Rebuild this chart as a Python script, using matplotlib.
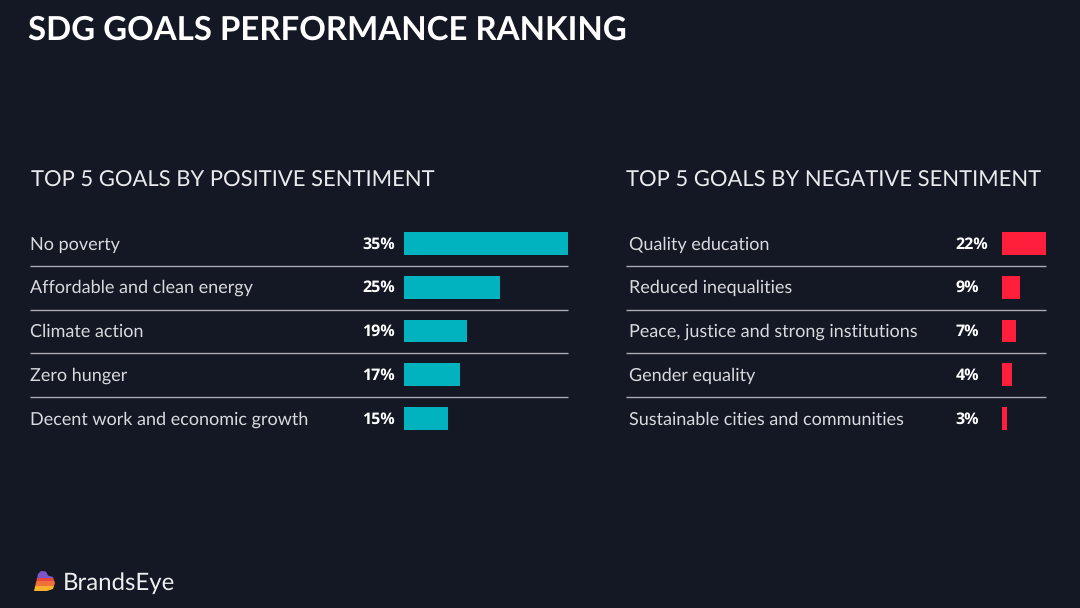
import matplotlib
matplotlib.use("Agg")
import matplotlib.pyplot as plt
from matplotlib.patches import Polygon, Rectangle

plt.rcParams["text.hinting"] = "no_hinting"
plt.rcParams["text.hinting_factor"] = 1

W, H = 1080, 608
BG = "#141824"
TEAL = "#00B3BF"
RED = "#FF1F3D"
LINE = "#A9ABB3"

title = "SDG GOALS PERFORMANCE RANKING"
left_heading = "TOP 5 GOALS BY POSITIVE SENTIMENT"
right_heading = "TOP 5 GOALS BY NEGATIVE SENTIMENT"

pos_goals = ["No poverty", "Affordable and clean energy", "Climate action",
             "Zero hunger", "Decent work and economic growth"]
pos_labels = ["35%", "25%", "19%", "17%", "15%"]
# drawn bar lengths (the bars are not proportional to the labels)
pos_bars = [35, 20.4, 13.5, 11.9, 9.3]

neg_goals = ["Quality education", "Reduced inequalities",
             "Peace, justice and strong institutions", "Gender equality",
             "Sustainable cities and communities"]
neg_labels = ["22%", "9%", "7%", "4%", "3%"]
neg_bars = [22, 9.1, 7.1, 5.1, 2.6]

fig = plt.figure(figsize=(W / 100, H / 100), dpi=100, facecolor=BG)

ov = fig.add_axes([0, 0, 1, 1])
ov.set_xlim(0, W)
ov.set_ylim(H, 0)
ov.axis("off")

BODY = "Lato"
NUM = "Open Sans"

ov.text(27.5, 30, title, color="white", fontsize=24.1, fontweight="bold",
        family=BODY, va="center", ha="left")
for x, s in [(31, left_heading), (625.5, right_heading)]:
    ov.text(x, 180.5, s, color="#E9EAED", fontsize=15.6, family=BODY, va="center")

row_y = [244.5, 288, 332, 375.5, 419.5]
rule_y = [265.5, 309.5, 353, 397]


def panel(x_text, x_rule, x_num, x_bar, x_end, goals, labels, bars, color):
    ax = fig.add_axes([x_bar / W, 1 - 440.4 / H, (x_end - x_bar) / W, 218.7 / H])
    ax.set_facecolor("none")
    ax.barh(range(len(bars)), bars, height=0.52, color=color)
    ax.set_xlim(0, max(bars))
    ax.set_ylim(len(bars) - 0.5, -0.5)
    ax.axis("off")
    for y in rule_y:
        ov.plot([x_rule, x_end], [y, y], color=LINE, lw=1.0, solid_capstyle="butt")
    for y, g, l in zip(row_y, goals, labels):
        ov.text(x_text, y, g, color="#D9DADE", fontsize=13.3, family=BODY, va="center")
        ov.text(x_num - 0.5, y, l, color="white", fontsize=11.5, family=NUM,
                fontweight="bold", va="center")


panel(30.5, 30, 363, 404, 568, pos_goals, pos_labels, pos_bars, TEAL)
panel(629, 626, 956, 1002, 1046, neg_goals, neg_labels, neg_bars, RED)

# logo
verts = [(34, 591), (38, 574), (41, 571), (46, 571.5), (48, 575.5), (53, 577),
         (55, 583), (53, 589), (47, 591)]
bands = [(570, 577.5, "#7C55C8"), (577.5, 581, "#E5443F"),
         (581, 586, "#F0703A"), (586, 592, "#F6B12D")]
for y0, y1, c in bands:
    r = Rectangle((33, y0), 24, y1 - y0, color=c, lw=0, zorder=3)
    ov.add_patch(r)
    r.set_clip_path(Polygon(verts, closed=True, transform=ov.transData))
ov.text(62.5, 583, "BrandsEye", color="#EDEEF0", fontsize=17.3, family=BODY, va="center")

fig.savefig("out.png", dpi=100, facecolor=BG)
